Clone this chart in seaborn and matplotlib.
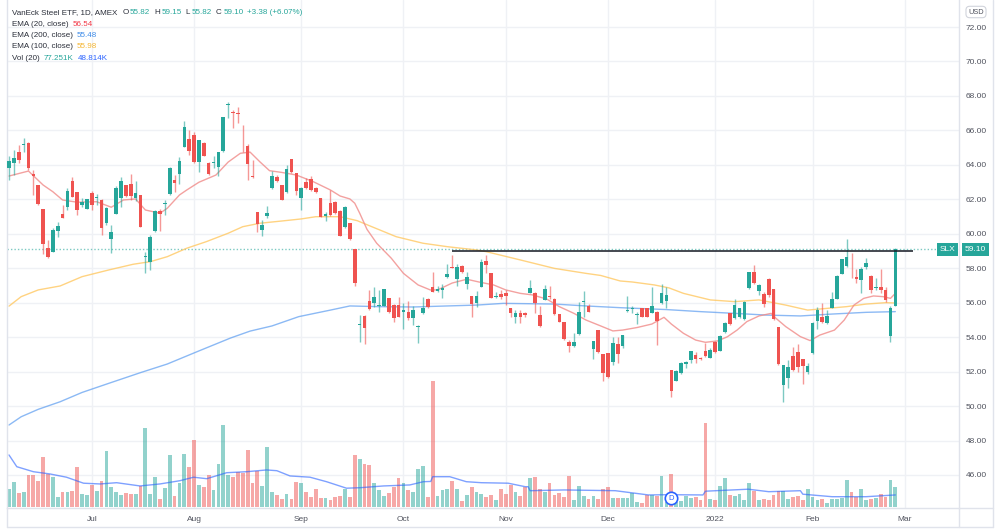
import matplotlib
matplotlib.use("Agg")
import numpy as np
import pandas as pd
import seaborn as sns
import matplotlib.pyplot as plt
from matplotlib.lines import Line2D
from matplotlib.transforms import blended_transform_factory

# trading days on the chart (exchange holidays dropped), two extra future days for the "Mar" label
holidays = ["2021-07-05", "2021-09-06", "2021-11-25", "2021-12-24", "2022-01-17", "2022-02-21"]
days = pd.bdate_range("2021-06-08", "2022-03-01", freq="C", holidays=holidays)

open_ = [63.80, 64.09, 64.73, 65.15, 65.25, 63.47, 62.83, 61.44, 59.16, 58.96,
         60.16, 61.15, 61.57, 63.08, 62.41, 61.67, 61.42, 62.38, 62.06, 61.96,
         60.61, 59.70, 61.15, 62.09, 62.83, 62.89, 62.06, 62.25, 58.67, 58.34,
         60.16, 61.32, 61.73, 62.29, 63.10, 63.45, 65.05, 65.50, 65.73, 64.18,
         65.27, 64.12, 64.09, 63.89, 64.80, 67.47, 67.07, 67.03, 66.04, 65.11,
         63.37, 61.26, 60.22, 61.03, 62.66, 63.29, 62.83, 62.42, 64.34, 63.53,
         62.08, 63.00, 63.18, 62.66, 62.08, 61.03, 61.78, 61.84, 61.32, 60.39,
         60.62, 59.11, 54.69, 55.24, 56.11, 56.00, 55.81, 55.81, 56.29, 55.86,
         55.86, 55.48, 55.44, 55.13, 54.61, 55.38, 56.20, 56.93, 56.68, 56.74,
         57.47, 58.09, 57.37, 58.13, 57.08, 56.39, 56.00, 56.91, 58.42, 57.72,
         56.33, 56.50, 56.56, 55.69, 55.17, 55.40, 55.40, 56.56, 56.56, 55.28,
         56.16, 56.39, 56.21, 55.34, 54.88, 53.72, 53.48, 54.18, 56.04, 55.82,
         53.31, 54.40, 53.02, 53.08, 52.57, 53.60, 53.48, 55.52, 55.62, 55.27,
         55.71, 55.67, 55.38, 55.48, 55.96, 56.10, 52.09, 51.47, 51.90, 52.42,
         52.67, 52.96, 52.81, 53.21, 52.81, 53.73, 53.21, 54.31, 55.38, 55.09,
         55.15, 55.03, 56.83, 57.76, 56.70, 56.49, 57.36, 56.79, 54.57, 51.22,
         51.61, 52.92, 53.12, 52.73, 52.00, 53.06, 54.95, 55.15, 54.84, 55.71,
         56.21, 57.66, 58.13, 57.74, 57.51, 57.32, 58.09, 57.57, 56.83, 56.89,
         56.74, 54.07, 55.82]
high = [64.51, 64.86, 65.15, 65.57, 65.30, 63.70, 62.85, 61.45, 59.64, 60.32,
        60.70, 61.67, 62.64, 63.31, 62.45, 62.06, 62.00, 62.48, 62.29, 62.00,
        61.57, 60.51, 62.79, 63.31, 62.85, 63.47, 63.08, 62.27, 58.92, 59.93,
        61.38, 61.44, 61.96, 63.86, 63.41, 64.47, 66.54, 66.02, 65.92, 65.45,
        65.30, 64.18, 64.53, 64.76, 66.80, 67.63, 67.18, 67.37, 66.31, 65.19,
        64.28, 61.27, 60.80, 61.61, 63.64, 63.41, 62.85, 63.99, 64.35, 63.55,
        62.70, 63.24, 63.35, 62.70, 62.10, 61.28, 62.54, 61.90, 61.35, 61.60,
        60.65, 59.12, 55.28, 55.30, 56.74, 56.93, 56.74, 56.82, 56.30, 55.90,
        56.35, 55.96, 56.11, 55.81, 54.70, 56.35, 56.30, 57.80, 56.97, 57.07,
        58.24, 58.77, 58.24, 58.20, 57.80, 56.40, 56.70, 58.52, 58.77, 57.75,
        56.64, 56.74, 56.74, 55.70, 55.57, 55.57, 55.48, 57.32, 56.60, 55.81,
        57.03, 56.99, 56.25, 55.35, 54.90, 53.83, 54.24, 56.04, 56.70, 55.90,
        53.80, 54.40, 53.05, 53.10, 53.99, 53.99, 54.11, 56.39, 55.81, 55.48,
        55.72, 55.70, 56.89, 55.50, 57.08, 56.89, 52.10, 52.10, 52.57, 52.63,
        53.22, 53.15, 52.85, 53.64, 53.35, 53.75, 54.10, 54.90, 55.42, 56.21,
        55.70, 56.10, 57.78, 58.19, 57.08, 56.64, 57.41, 56.80, 54.60, 52.40,
        52.67, 53.44, 53.60, 52.75, 52.48, 54.85, 55.77, 55.96, 55.57, 56.60,
        57.60, 58.55, 59.68, 58.87, 57.94, 58.09, 58.58, 57.60, 57.45, 57.94,
        56.89, 55.81, 59.15]
low = [63.12, 63.41, 64.09, 64.76, 63.70, 62.25, 61.67, 58.81, 58.58, 58.92,
       59.83, 60.90, 61.38, 62.12, 61.09, 61.57, 61.42, 61.38, 61.67, 59.93,
       60.51, 58.87, 61.15, 61.57, 62.15, 61.98, 61.90, 60.37, 57.70, 57.90,
       60.13, 60.16, 61.09, 62.25, 62.44, 62.87, 65.05, 64.57, 64.09, 63.57,
       64.50, 63.41, 63.83, 63.37, 64.75, 66.70, 66.12, 66.41, 64.76, 63.12,
       63.25, 60.12, 59.89, 60.90, 62.58, 62.98, 61.95, 62.35, 63.55, 62.25,
       61.38, 62.60, 62.50, 62.35, 60.95, 60.76, 61.05, 61.15, 59.85, 60.35,
       59.65, 56.97, 53.73, 53.60, 55.60, 55.77, 55.48, 55.80, 55.40, 54.90,
       55.15, 54.45, 55.00, 54.70, 53.64, 55.34, 55.70, 56.60, 56.62, 56.25,
       57.45, 58.00, 56.97, 57.75, 56.78, 55.17, 55.73, 56.90, 57.70, 56.25,
       56.25, 56.21, 55.86, 55.19, 54.84, 54.84, 55.19, 56.55, 55.42, 54.60,
       56.15, 56.21, 55.30, 54.85, 53.85, 53.15, 53.45, 54.15, 55.19, 55.44,
       52.71, 53.10, 51.45, 51.65, 52.38, 52.48, 53.35, 55.48, 55.42, 54.76,
       55.15, 55.15, 55.38, 53.54, 55.92, 55.67, 50.51, 51.45, 51.84, 52.19,
       52.48, 52.52, 52.70, 52.86, 52.77, 53.10, 53.20, 54.26, 54.70, 55.03,
       55.10, 55.00, 56.78, 57.08, 56.44, 55.73, 56.35, 55.00, 52.40, 50.22,
       51.03, 52.05, 52.00, 51.28, 51.86, 53.05, 54.45, 54.84, 54.76, 55.67,
       56.20, 57.65, 58.09, 57.41, 57.12, 56.58, 57.94, 56.54, 56.74, 56.54,
       56.06, 53.73, 55.82]
close = [64.22, 64.38, 64.28, 65.23, 63.83, 63.35, 61.71, 59.42, 58.63, 60.22,
         60.47, 60.93, 62.48, 62.15, 61.38, 61.86, 62.00, 61.67, 62.15, 60.32,
         61.48, 60.12, 62.64, 63.06, 62.19, 62.21, 62.35, 60.37, 58.73, 59.83,
         61.32, 61.15, 61.80, 63.83, 62.93, 64.22, 66.18, 64.80, 64.15, 65.42,
         64.53, 63.45, 64.15, 64.73, 66.76, 67.51, 66.99, 66.93, 66.00, 64.03,
         63.29, 60.57, 60.51, 61.20, 63.35, 63.06, 61.96, 63.76, 63.58, 62.48,
         62.66, 62.66, 62.54, 62.42, 60.97, 61.15, 61.09, 61.20, 59.87, 61.55,
         59.70, 57.14, 54.74, 54.55, 55.62, 56.35, 55.86, 56.79, 55.44, 55.09,
         55.19, 55.57, 55.13, 55.57, 54.66, 55.67, 55.73, 56.60, 56.79, 56.83,
         57.66, 58.03, 58.07, 57.78, 57.49, 55.92, 56.39, 58.36, 58.19, 56.27,
         56.39, 56.33, 56.39, 55.40, 55.40, 55.17, 55.28, 56.85, 55.98, 54.65,
         56.79, 56.33, 55.34, 54.88, 53.89, 53.48, 53.72, 55.46, 56.10, 55.48,
         53.79, 53.15, 51.92, 51.69, 53.68, 53.02, 54.11, 55.57, 55.71, 55.33,
         55.19, 55.19, 55.81, 54.95, 56.54, 56.44, 50.89, 52.05, 52.52, 52.54,
         53.21, 52.73, 52.75, 52.90, 53.25, 53.15, 54.07, 54.84, 54.76, 55.86,
         55.67, 56.06, 57.76, 57.12, 57.03, 55.91, 56.44, 55.03, 52.44, 52.38,
         52.25, 52.09, 52.25, 52.32, 52.32, 54.84, 55.57, 54.90, 55.24, 56.21,
         57.57, 58.53, 58.63, 57.70, 57.36, 57.95, 58.32, 56.74, 56.89, 56.74,
         56.16, 55.72, 59.10]
# volume in thousands of shares
volume_k = [69, 99, 53, 60, 128, 128, 103, 197, 131, 117,
            39, 57, 57, 63, 159, 49, 47, 85, 61, 104,
            224, 80, 59, 47, 55, 51, 51, 83, 313, 51,
            120, 29, 75, 207, 43, 96, 212, 159, 265, 88,
            77, 125, 67, 172, 327, 127, 119, 137, 136, 227,
            96, 143, 83, 237, 59, 47, 29, 49, 29, 100,
            93, 59, 37, 72, 35, 35, 28, 39, 41, 69,
            39, 205, 191, 172, 167, 96, 67, 43, 53, 80,
            115, 96, 67, 57, 151, 164, 39, 503, 43, 67,
            72, 101, 69, 23, 47, 77, 59, 51, 39, 45,
            27, 69, 49, 88, 57, 43, 80, 115, 117, 69,
            60, 93, 47, 53, 40, 123, 27, 83, 44, 29,
            44, 29, 69, 77, 36, 36, 36, 36, 53, 20,
            13, 47, 47, 43, 123, 20, 131, 20, 23, 43,
            36, 37, 27, 336, 29, 25, 84, 113, 47, 43,
            51, 25, 93, 63, 27, 29, 27, 47, 61, 63,
            31, 39, 43, 27, 69, 40, 27, 29, 16, 29,
            29, 35, 107, 60, 40, 69, 27, 29, 36, 49,
            37, 107, 77]

# indicator values at sample bars (bar number, value)
ema20_bar = [0, 4, 7, 9, 11, 14, 18, 21, 23.5, 26, 28, 31, 32.5, 35, 36.5, 39, 42.5, 45, 47.5,
             49.5, 51.5, 53.5, 56, 59, 62.5, 66, 68, 70, 71, 72, 73.5, 75.5, 78.5, 81, 84,
             86.5, 88, 91, 94, 96.5, 99.5, 102, 105, 107.5, 110.5, 113, 116, 118.5, 121.5,
             124, 126, 129, 132, 134.5, 136, 138.5, 141, 143, 145.5, 147.5, 149.5, 151.5,
             154, 156.5, 157.5, 159.5, 162.5, 164.5, 166.5, 169.5, 171.5, 173.5, 175.5,
             177.5, 179.5, 181, 182]
ema20_val = [63.35, 63.64, 62.83, 62.44, 61.96, 61.83, 61.86, 61.54, 61.96, 62.02, 61.38, 61.19,
             61.48, 62.25, 62.54, 62.99, 63.41, 64.16, 64.67, 64.74, 64.18, 63.66, 63.56, 63.41,
             63.02, 62.54, 62.19, 62.02, 61.77, 61.20, 60.26, 59.45, 58.58, 57.70, 57.03, 56.74,
             56.74, 57.14, 57.36, 57.20, 57.03, 56.74, 56.54, 56.45, 56.20, 55.77, 55.38, 54.99,
             54.65, 54.36, 54.41, 54.56, 54.76, 55.15, 54.76, 54.22, 53.83, 53.70, 53.78, 54.02,
             54.41, 54.90, 55.23, 55.38, 55.09, 54.61, 54.03, 53.80, 54.12, 54.41, 54.99, 55.86,
             56.25, 56.39, 56.35, 56.25, 56.54]
ema100_bar = [0, 2.5, 6, 10.5, 15, 20.5, 25.5, 29, 32.5, 36.5, 40.5, 45, 48, 51.5, 56, 60, 63,
              68, 71.5, 74.5, 79.5, 85, 90, 96, 98, 105, 112, 118.5, 121.5, 125.5, 128, 132.5,
              135.5, 138.5, 144, 149, 154, 159.5, 164, 168, 172, 176, 180, 182]
ema100_val = [55.80, 56.35, 56.74, 56.97, 57.51, 57.90, 58.23, 58.38, 58.67, 59.16, 59.54, 60.03,
              60.41, 60.61, 60.74, 60.86, 60.99, 60.99, 60.76, 60.41, 59.83, 59.45, 59.25, 59.06,
              58.96, 58.48, 57.99, 57.70, 57.58, 57.26, 57.20, 57.03, 56.86, 56.54, 56.16, 56.06,
              56.16, 55.86, 55.57, 55.67, 55.77, 55.92, 56.00, 55.98]
ema200_bar = [0, 2.5, 6, 10.5, 15, 20.5, 27, 32.5, 39, 45.5, 49.5, 54, 59.5, 66, 70, 76, 83, 90,
              96, 101.5, 112, 118.5, 125.5, 135, 142, 149, 155.5, 162.5, 169, 176, 182]
ema200_val = [48.90, 49.38, 49.81, 50.25, 50.79, 51.32, 51.94, 52.44, 53.20, 53.95, 54.35, 54.65,
              55.19, 55.57, 55.81, 55.77, 55.75, 55.81, 55.86, 55.96, 55.92, 55.81, 55.71, 55.60,
              55.48, 55.38, 55.28, 55.23, 55.34, 55.44, 55.48]
volma_bar = [0, 1.6, 5, 8.4, 11.8, 15.3, 18.7, 22.1, 26.9, 31, 35.1, 37.9, 40.6, 44.7, 48.8, 52.9,
             55, 57.7, 61.8, 65.2, 69.3, 72.1, 76.9, 82.3, 85.1, 86.6, 87, 90.5, 93.9, 97, 102.5,
             106, 106.6, 107, 114, 124.5, 131.3, 135.4, 142.5, 143, 151.8, 156, 162.5, 163,
             169, 176, 182]
volma_k = [207, 160, 140, 131, 118, 94, 91, 96, 83, 91, 104, 118, 112, 136, 140, 147,
           144, 123, 118, 100, 74, 76, 83, 87, 100, 101, 120, 120, 100, 96, 94,
           80, 80, 64, 67, 64, 47, 48, 47, 62, 70, 60, 64, 50,
           40, 40, 47]

last_price = 59.10
level_price = 59.02
level_from_bar, level_to_bar = 90.9, 185.7
dividend_day = "2021-12-20"

UP, DOWN = "#26a69a", "#ef5350"
W, H = 1000, 531
FS = 5.8

df = pd.DataFrame({"date": days[:len(close)], "open": open_, "high": high,
                   "low": low, "close": close, "vol": volume_k})
df["bar"] = np.arange(len(df))
df["up"] = df["close"] >= df["open"]
colors = np.where(df["up"], UP, DOWN)

sns.set_theme(style="white")
plt.rcParams["font.family"] = ["Liberation Sans", "DejaVu Sans"]

fig = plt.figure(figsize=(W / 100, H / 100), dpi=100)
rect = [7 / W, (H - 508) / H, (959 - 7) / W, 508 / H]
vax = fig.add_axes(rect, zorder=1)
ax = fig.add_axes(rect, zorder=2)
ax.patch.set_alpha(0)

# pixel layout: bar 0 at x=9px, 4.87px per bar; price 72 at y=27px, 17.23px per dollar
xlim = ((7 - 9) / 4.87, (959 - 9) / 4.87)
for a in (ax, vax):
    a.set_xlim(*xlim)
ax.set_ylim(72 - (508 - 27) / 17.23, 72 + 27 / 17.23)
vax.set_ylim((506.7 - 508) * 4.0, 506.7 * 4.0)

# month ticks at the first trading day of each month
cal = pd.DataFrame({"date": days})
cal["bar"] = np.arange(len(cal))
firsts = cal.groupby([cal.date.dt.year, cal.date.dt.month]).first()
firsts = firsts[firsts.date > days[0]]
month_pos = firsts["bar"].tolist()
month_lab = ["2022" if d.month == 1 else d.strftime("%b") for d in firsts["date"]]

grid_col = "#eff1f5"
price_ticks = np.arange(46, 73, 2)
htr = blended_transform_factory(vax.transAxes, ax.transData)
for p in price_ticks:
    vax.plot([0, 1], [p, p], transform=htr, color=grid_col, lw=1, zorder=0)
for m in month_pos:
    vax.axvline(m, color=grid_col, lw=1, zorder=0)

# volume pane
vax.bar(df["bar"], df["vol"], width=0.78, color=colors, alpha=0.5, linewidth=0, zorder=2)
sns.lineplot(x=volma_bar, y=volma_k, ax=vax, color="#2962ff", alpha=0.6, linewidth=1, zorder=3)
div_bar = int(cal.loc[cal.date == dividend_day, "bar"].iloc[0])
vax.scatter([div_bar], [34], s=80, facecolor="white", edgecolor="#2962ff", linewidth=1.2, zorder=5)
vax.text(div_bar, 34, "D", color="#2962ff", fontsize=5.5, ha="center", va="center", zorder=6)
vax.set_xticks([])
vax.set_yticks([])
for s in vax.spines.values():
    s.set_visible(False)

# moving averages
sns.lineplot(x=ema200_bar, y=ema200_val, ax=ax, color="#5b9cf0", alpha=0.7, linewidth=1, zorder=2)
sns.lineplot(x=ema100_bar, y=ema100_val, ax=ax, color="#ffc862", alpha=0.8, linewidth=1, zorder=2)
sns.lineplot(x=ema20_bar, y=ema20_val, ax=ax, color="#f08a88", alpha=0.8, linewidth=1, zorder=2)

# candles
body_lo = df[["open", "close"]].min(axis=1)
body_h = (df["close"] - df["open"]).abs().clip(lower=0.05)
ax.vlines(df["bar"], df["low"], df["high"], colors=colors, linewidth=1, alpha=0.6, zorder=3)
ax.bar(df["bar"], body_h, bottom=body_lo, width=0.74, color=colors, linewidth=0, zorder=4)

ax.axhline(last_price, color=UP, lw=1, ls=(0, (1, 1.5)), alpha=0.6, zorder=1)
ax.hlines(level_price, level_from_bar, level_to_bar, color="#131722", lw=1.1, zorder=5)

# axes
ax.set_xticks(month_pos)
ax.set_xticklabels(month_lab)
ax.yaxis.tick_right()
ax.set_yticks(price_ticks)
ax.set_yticklabels([f"{p:.2f}" for p in price_ticks])
ax.tick_params(axis="y", length=0, pad=5, labelsize=6.0, labelcolor="#50535e")
ax.tick_params(axis="x", length=0, pad=6, labelsize=6.0, labelcolor="#50535e")
ax.grid(False)
ax.set_xlabel("")
ax.set_ylabel("")
ax.spines["top"].set_visible(False)
for s in ("left", "right", "bottom"):
    ax.spines[s].set_color("#e0e3eb")
    ax.spines[s].set_linewidth(1)

border = "#e0e3eb"
for x0, y0, x1, y1 in [(7, 508, 7, 527), (959, 508, 959, 527), (993, 0, 993, 527),
                       (7, 527, 993, 527), (959, 508, 993, 508)]:
    fig.add_artist(Line2D([x0 / W, x1 / W], [1 - y0 / H, 1 - y1 / H],
                          transform=fig.transFigure, color=border, lw=1))

# price tags
ax.annotate(f"{last_price:.2f}", xy=(1, last_price), xycoords=ax.get_yaxis_transform(),
            xytext=(12, 0), textcoords="offset points", ha="center", va="center",
            color="white", fontsize=6.0, annotation_clip=False,
            bbox=dict(boxstyle="square,pad=0.35", fc=UP, ec="none"))
ax.annotate("SLX", xy=(1, last_price), xycoords=ax.get_yaxis_transform(),
            xytext=(-8.3, 0), textcoords="offset points", ha="center", va="center",
            color="white", fontsize=6.0, annotation_clip=False,
            bbox=dict(boxstyle="square,pad=0.35", fc=UP, ec="none"))
fig.text(976 / W, 1 - 12 / H, "USD", fontsize=5.3, color="#50535e", ha="center", va="center",
         bbox=dict(boxstyle="round,pad=0.3,rounding_size=0.5", fc="white", ec="#d1d4dc", lw=0.8))

# legend rows: pieces laid out left to right, gaps in pixels
dark = "#2a2e39"
rows = [
    (13, [("VanEck Steel ETF, 1D, AMEX", dark, 0), ("O", dark, 5), ("55.82", UP, 1.5),
          ("H", dark, 4), ("59.15", UP, 1.5), ("L", dark, 4), ("55.82", UP, 1.5),
          ("C", dark, 4), ("59.10", UP, 1.5), ("+3.38 (+6.07%)", UP, 4)]),
    (24.5, [("EMA (20, close)", dark, 0), ("56.54", "#f23645", 4)]),
    (35.5, [("EMA (200, close)", dark, 0), ("55.48", "#3d8be8", 4)]),
    (46.7, [("EMA (100, close)", dark, 0), ("55.98", "#f5b530", 4)]),
    (58, [("Vol (20)", dark, 0), ("77.251K", UP, 4), ("48.814K", "#2962ff", 4)]),
]
renderer = fig.canvas.get_renderer()
for y_px, parts in rows:
    x_px = 12
    for txt, col, gap in parts:
        x_px += gap
        t = fig.text(x_px / W, 1 - y_px / H, txt, color=col, fontsize=FS, ha="left", va="center")
        x_px += t.get_window_extent(renderer).width

fig.savefig("out.png", dpi=100)
plt.close(fig)
